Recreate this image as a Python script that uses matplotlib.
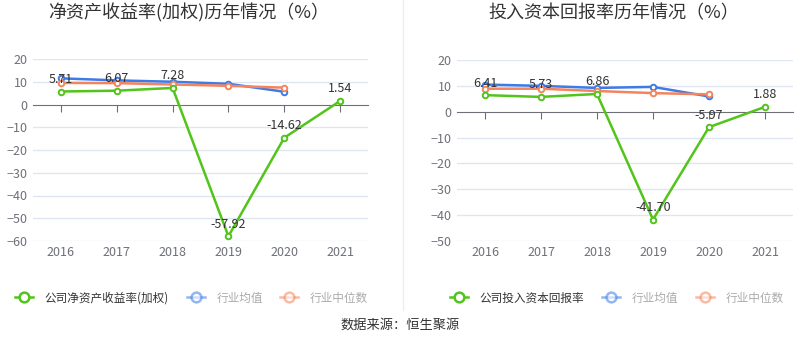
import numpy as np
import matplotlib.pyplot as plt
from matplotlib.lines import Line2D
from matplotlib import transforms

plt.rcParams['font.family'] = ['Noto Sans CJK SC', 'DejaVu Sans']

years = ['2016', '2017', '2018', '2019', '2020', '2021']

# 净资产收益率(加权)
roe_company = [5.71, 6.07, 7.28, -57.92, -14.62, 1.54]
roe_mean = [11.5, 10.6, 10.0, 9.1, 5.6]
roe_median = [9.5, 9.4, 8.8, 8.2, 7.4]

# 投入资本回报率
roic_company = [6.41, 5.73, 6.86, -41.70, -5.97, 1.88]
roic_mean = [10.5, 10.0, 9.2, 9.6, 5.9]
roic_median = [8.9, 8.9, 8.0, 7.2, 6.7]

GREEN = '#52c41a'
BLUE = '#3d7be6'
ORANGE = '#f5845e'

W, H = 800, 358
fig = plt.figure(figsize=(W / 100, H / 100), dpi=100)


def px_axes(x0, y_top, x1, y_bot):
    return fig.add_axes([x0 / W, 1 - y_bot / H, (x1 - x0) / W, (y_bot - y_top) / H])


def draw(ax, comp, mean, med, ylim, yticks):
    x = np.arange(len(years))
    ax.set_xlim(-0.5, len(years) - 0.5)
    ax.set_ylim(*ylim)
    for s in ['top', 'right', 'left']:
        ax.spines[s].set_visible(False)
    ax.spines['bottom'].set_position(('data', 0))
    ax.spines['bottom'].set_color('#6e7079')
    ax.spines['bottom'].set_zorder(1)
    ax.set_yticks(yticks)
    for t in yticks:
        if t != 0:
            ax.axhline(t, color='#e0e6f1', lw=1, zorder=0)
    ax.tick_params(axis='y', length=0, labelsize=9, labelcolor='#6e7079', pad=4)
    ax.set_xticks(x)
    ax.tick_params(axis='x', length=5, color='#6e7079', labelbottom=False)
    trans = transforms.blended_transform_factory(ax.transData, ax.transAxes)
    for i, y in enumerate(years):
        ax.text(i, -0.065, y, transform=trans, ha='center', va='center',
                fontsize=9, color='#6e7079')

    mk = dict(marker='o', markersize=4, markerfacecolor='white', markeredgewidth=1.4)
    l1, = ax.plot(x, comp, color=GREEN, lw=1.8, zorder=5, **mk)
    l2, = ax.plot(x[:len(mean)], mean, color=BLUE, lw=1.8, zorder=4, **mk)
    l3, = ax.plot(x[:len(med)], med, color=ORANGE, lw=1.8, zorder=4, **mk)
    for i, v in enumerate(comp):
        ax.annotate(f'{v:.2f}', (i, v), xytext=(0, 4), textcoords='offset points',
                    ha='center', va='bottom', fontsize=9, color='#333333', zorder=6)
    return [l1, l2, l3]


ax1 = px_axes(33, 59, 368, 241)
h1 = draw(ax1, roe_company, roe_mean, roe_median, (-60, 20), list(range(-60, 21, 10)))
ax2 = px_axes(457, 60, 793, 241)
h2 = draw(ax2, roic_company, roic_mean, roic_median, (-50, 20), list(range(-50, 21, 10)))

fig.text(48 / W, 1 - 13 / H, '净资产收益率(加权)历年情况（%）', fontsize=13,
         color='#333333', ha='left', va='center')
fig.text(488 / W, 1 - 13 / H, '投入资本回报率历年情况（%）', fontsize=13,
         color='#333333', ha='left', va='center')

fig.add_artist(Line2D([403 / W, 403 / W], [1 - 310 / H, 1], color='#eeeeee', lw=1))


def legend(handles, labels, x0):
    leg = fig.legend(handles, labels, loc='center left',
                     bbox_to_anchor=(x0 / W, 1 - 298 / H), ncol=3, frameon=False,
                     fontsize=8.4, handlelength=1.55, handletextpad=1.0,
                     columnspacing=1.5, borderaxespad=0, borderpad=0)
    for i, (ln, tx) in enumerate(zip(leg.get_lines(), leg.get_texts())):
        ln.set_markersize(7)
        ln.set_markeredgewidth(1.8)
        if i == 0:
            tx.set_color('#333333')
        else:
            ln.set_alpha(0.55)
            tx.set_color('#aaaaaa')
    return leg


legend(h1, ['公司净资产收益率(加权)', '行业均值', '行业中位数'], 15)
legend(h2, ['公司投入资本回报率', '行业均值', '行业中位数'], 450)

fig.text(0.5, 1 - 325 / H, '数据来源：恒生聚源', fontsize=9.5, color='#333333',
         ha='center', va='center')

fig.savefig('out.png', dpi=100)
